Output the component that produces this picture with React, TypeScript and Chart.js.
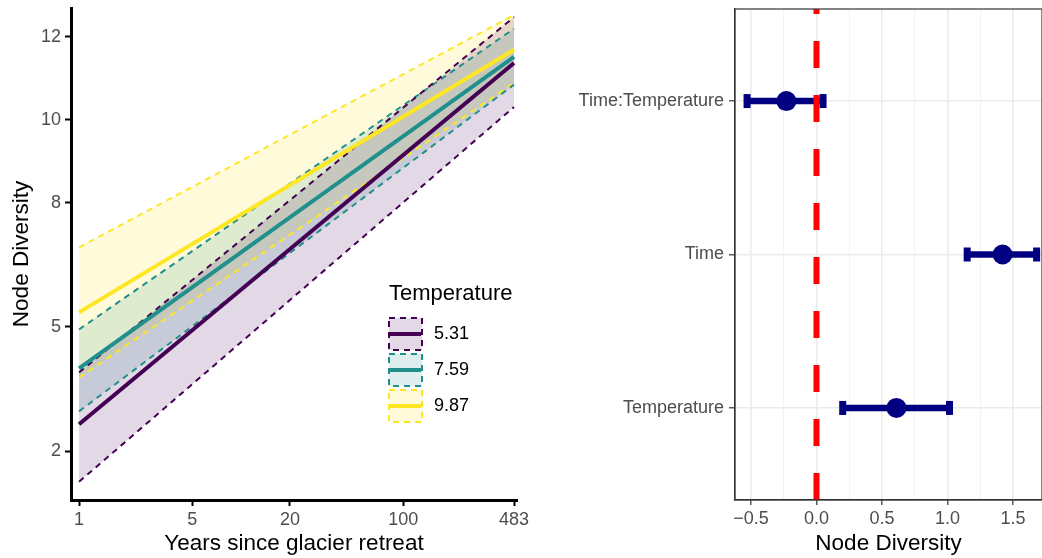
import React, { useEffect, useRef } from "react";
import { Chart, registerables } from "chart.js";

Chart.register(...registerables);

// ---------- Left panel data ----------
const years = [1, 483];
const tempLabels = ["5.31", "7.59", "9.87"];
const tempColors = ["#440154", "#21908C", "#FDE725"];
const tempFills = ["rgba(68,1,84,0.15)", "rgba(33,144,140,0.15)", "rgba(253,231,37,0.17)"];
const fit531 = [2.65, 11.37];
const lo531 = [1.26, 10.31];
const hi531 = [3.9, 12.48];
const fit759 = [4.0, 11.52];
const lo759 = [2.96, 10.85];
const hi759 = [4.94, 12.2];
const fit987 = [5.35, 11.69];
const lo987 = [3.78, 10.89];
const hi987 = [6.92, 12.53];
const xTicksLeft = [1, 5, 20, 100, 483];
const yTicksLeft = [2, 5, 8, 10, 12];

// ---------- Right panel data ----------
const terms = ["Temperature", "Time", "Time:Temperature"];
const estimates = [0.61, 1.42, -0.23];
const ciLow = [0.2, 1.15, -0.53];
const ciHigh = [1.015, 1.68, 0.05];
const xMajorRight = [-0.5, 0, 0.5, 1, 1.5];
const xMinorRight = [-0.25, 0.25, 0.75, 1.25];

const FONT = "'Liberation Sans', Arial, sans-serif";
const TICK_GRAY = "#4d4d4d";
const TICK_SIZE = 18;
const TITLE_SIZE = 22.5;

const toPts = (ys: number[]) => ys.map((y, i) => ({ x: years[i], y }));

function LeftChart() {
  const ref = useRef<HTMLCanvasElement>(null);
  useEffect(() => {
    const fits = [fit531, fit759, fit987];
    const los = [lo531, lo759, lo987];
    const his = [hi531, hi759, hi987];
    const datasets: any[] = [];
    for (let g = 0; g < 3; g++) {
      datasets.push({
        label: tempLabels[g] + " hi",
        data: toPts(his[g]),
        borderColor: tempColors[g],
        borderWidth: 2,
        borderDash: [6, 5],
        backgroundColor: tempFills[g],
        fill: "+1",
        pointRadius: 0,
        order: 10 + g,
      });
      datasets.push({
        label: tempLabels[g] + " lo",
        data: toPts(los[g]),
        borderColor: tempColors[g],
        borderWidth: 2,
        borderDash: [6, 5],
        fill: false,
        pointRadius: 0,
        order: 10 + g,
      });
    }
    for (let g = 0; g < 3; g++) {
      datasets.push({
        label: tempLabels[g],
        data: toPts(fits[g]),
        borderColor: tempColors[g],
        borderWidth: 4,
        fill: false,
        pointRadius: 0,
        order: 3 - g,
      });
    }

    const legendPlugin = {
      id: "tempLegend",
      afterDraw(chart: any) {
        const ctx = chart.ctx;
        ctx.save();
        ctx.fillStyle = "#000";
        ctx.font = `22px ${FONT}`;
        ctx.textBaseline = "middle";
        ctx.textAlign = "left";
        ctx.fillText("Temperature", 389, 294);
        const boxX = 389, boxW = 33, boxH = 32;
        const tops = [318, 354, 390];
        for (let g = 0; g < 3; g++) {
          const y = tops[g];
          ctx.fillStyle = "#fff";
          ctx.fillRect(boxX, y, boxW, boxH);
          ctx.fillStyle = tempFills[g];
          ctx.fillRect(boxX, y, boxW, boxH);
          ctx.strokeStyle = tempColors[g];
          ctx.lineWidth = 2;
          ctx.setLineDash([6, 5]);
          ctx.strokeRect(boxX, y, boxW, boxH);
          ctx.setLineDash([]);
          ctx.lineWidth = 4;
          ctx.beginPath();
          ctx.moveTo(boxX + 1, y + boxH / 2);
          ctx.lineTo(boxX + boxW - 1, y + boxH / 2);
          ctx.stroke();
          ctx.fillStyle = "#000";
          ctx.font = `18px ${FONT}`;
          ctx.fillText(tempLabels[g], 434, y + boxH / 2);
        }
        ctx.restore();
      },
    };

    const chart = new Chart(ref.current!, {
      type: "line",
      data: { datasets },
      plugins: [legendPlugin],
      options: {
        animation: false,
        responsive: false,
        maintainAspectRatio: false,
        layout: { autoPadding: false, padding: { left: 0, top: 8, right: 23, bottom: 0 } },
        plugins: {
          legend: { display: false },
          tooltip: { enabled: false },
          filler: { drawTime: "beforeDatasetsDraw" } as any,
        },
        scales: {
          x: {
            type: "logarithmic",
            min: 0.892,
            max: 504,
            afterBuildTicks: (s: any) => {
              s.ticks = xTicksLeft.map((v) => ({ value: v }));
            },
            afterFit: (s: any) => {
              s.height = 58;
              s.paddingLeft = 0;
              s.paddingRight = 0;
            },
            ticks: {
              autoSkip: false,
              maxRotation: 0,
              color: TICK_GRAY,
              font: { size: TICK_SIZE, family: FONT },
              padding: 3,
              callback: (v: any) => String(v),
            },
            grid: {
              display: true,
              drawOnChartArea: false,
              drawTicks: true,
              tickLength: 6,
              tickColor: "#000",
              tickWidth: 2,
            },
            border: { display: true, color: "#000", width: 3 },
            title: {
              display: true,
              text: "Years since glacier retreat",
              color: "#000",
              font: { size: TITLE_SIZE, family: FONT },
              padding: { top: 0, bottom: 1 },
            },
          },
          y: {
            type: "linear",
            min: 0.82,
            max: 12.7,
            afterBuildTicks: (s: any) => {
              s.ticks = yTicksLeft.map((v) => ({ value: v }));
            },
            afterFit: (s: any) => {
              s.width = 71;
              s.paddingTop = 0;
              s.paddingBottom = 0;
            },
            ticks: {
              color: TICK_GRAY,
              font: { size: TICK_SIZE, family: FONT },
              padding: 4,
              callback: (v: any) => String(v),
            },
            grid: {
              display: true,
              drawOnChartArea: false,
              drawTicks: true,
              tickLength: 6,
              tickColor: "#000",
              tickWidth: 2,
            },
            border: { display: true, color: "#000", width: 3 },
            title: {
              display: true,
              text: "Node Diversity",
              color: "#000",
              font: { size: TITLE_SIZE, family: FONT },
              padding: { top: 8, bottom: 0 },
            },
          },
        },
      },
    });
    return () => chart.destroy();
  }, []);
  return (
    <canvas
      ref={ref}
      width={540}
      height={558}
      style={{ position: "absolute", left: 0, top: 0, width: 540, height: 558 }}
    />
  );
}

function RightChart() {
  const ref = useRef<HTMLCanvasElement>(null);
  useEffect(() => {
    const NAVY = "#000080";
    const datasets: any[] = [];
    datasets.push({
      label: "zero",
      data: [
        { x: 0, y: 0.4 },
        { x: 0, y: 3.6 },
      ],
      borderColor: "#FF0000",
      borderWidth: 6,
      borderDash: [27, 27],
      pointRadius: 0,
      fill: false,
      order: 0,
    });
    datasets.push({
      label: "estimate",
      type: "scatter",
      data: estimates.map((e, i) => ({ x: e, y: i + 1 })),
      backgroundColor: NAVY,
      borderColor: NAVY,
      pointRadius: 10,
      pointBorderWidth: 0,
      order: 1,
    });
    for (let i = 0; i < terms.length; i++) {
      datasets.push({
        label: terms[i] + " CI",
        data: [
          { x: ciLow[i], y: i + 1 },
          { x: ciHigh[i], y: i + 1 },
        ],
        borderColor: NAVY,
        backgroundColor: NAVY,
        borderWidth: 6.5,
        pointStyle: "line",
        pointRotation: 90,
        pointRadius: 7,
        pointBorderWidth: 7,
        pointBorderColor: NAVY,
        fill: false,
        order: 2,
      });
    }

    const borderPlugin = {
      id: "panelBorder",
      afterDraw(chart: any) {
        const { ctx, chartArea } = chart;
        ctx.save();
        ctx.strokeStyle = "#333333";
        ctx.lineWidth = 1.2;
        ctx.strokeRect(chartArea.left, chartArea.top, chartArea.right - chartArea.left, chartArea.bottom - chartArea.top);
        ctx.restore();
      },
    };

    const allX = [...xMajorRight, ...xMinorRight].sort((a, b) => a - b);
    const isMajor = (v: number) => xMajorRight.some((m) => Math.abs(m - v) < 1e-9);

    const chart = new Chart(ref.current!, {
      type: "line",
      data: { datasets },
      plugins: [borderPlugin],
      options: {
        animation: false,
        responsive: false,
        maintainAspectRatio: false,
        layout: { autoPadding: false, padding: { left: 0, top: 9, right: 0, bottom: 0 } },
        plugins: {
          legend: { display: false },
          tooltip: { enabled: false },
        },
        scales: {
          x: {
            type: "linear",
            min: -0.622,
            max: 1.721,
            afterBuildTicks: (s: any) => {
              s.ticks = allX.map((v) => ({ value: v }));
            },
            afterFit: (s: any) => {
              s.height = 58;
              s.paddingLeft = 0;
              s.paddingRight = 0;
            },
            ticks: {
              autoSkip: false,
              maxRotation: 0,
              color: TICK_GRAY,
              font: { size: TICK_SIZE, family: FONT },
              padding: 3,
              callback: (v: any) => (isMajor(Number(v)) ? (Number(v) < 0 ? "\u2212" + Math.abs(Number(v)).toFixed(1) : Number(v).toFixed(1)) : ""),
            },
            grid: {
              display: true,
              drawOnChartArea: true,
              drawTicks: true,
              tickLength: 5,
              color: (c: any) => (c.tick && isMajor(c.tick.value) ? "#ebebeb" : "#f2f2f2"),
              lineWidth: (c: any) => (c.tick && isMajor(c.tick.value) ? 1.6 : 0.9),
              tickColor: (c: any) => (c.tick && isMajor(c.tick.value) ? "#333333" : "rgba(0,0,0,0)"),
              tickWidth: 1.2,
            },
            border: { display: true, color: "#333333", width: 1.2 },
            title: {
              display: true,
              text: "Node Diversity",
              color: "#000",
              font: { size: TITLE_SIZE, family: FONT },
              padding: { top: 0, bottom: 1 },
            },
          },
          y: {
            type: "linear",
            min: 0.4,
            max: 3.6,
            afterBuildTicks: (s: any) => {
              s.ticks = terms.map((_, i) => ({ value: i + 1 }));
            },
            afterFit: (s: any) => {
              s.width = 195;
              s.paddingTop = 0;
              s.paddingBottom = 0;
            },
            ticks: {
              autoSkip: false,
              color: TICK_GRAY,
              font: { size: TICK_SIZE, family: FONT },
              padding: 5,
              callback: (v: any) => terms[Math.round(Number(v)) - 1] ?? "",
            },
            grid: {
              display: true,
              drawOnChartArea: true,
              drawTicks: true,
              tickLength: 6,
              color: "#ebebeb",
              lineWidth: 1.6,
              tickColor: "#333333",
              tickWidth: 1.2,
            },
            border: { display: true, color: "#333333", width: 1.2 },
          },
        },
      },
    });
    return () => chart.destroy();
  }, []);
  return (
    <canvas
      ref={ref}
      width={502}
      height={558}
      style={{ position: "absolute", left: 540, top: 0, width: 502, height: 558 }}
    />
  );
}

export default function App() {
  return (
    <div
      style={{
        position: "absolute",
        left: 0,
        top: 0,
        width: 1042,
        height: 558,
        background: "#fff",
        overflow: "hidden",
      }}
    >
      <LeftChart />
      <RightChart />
    </div>
  );
}
